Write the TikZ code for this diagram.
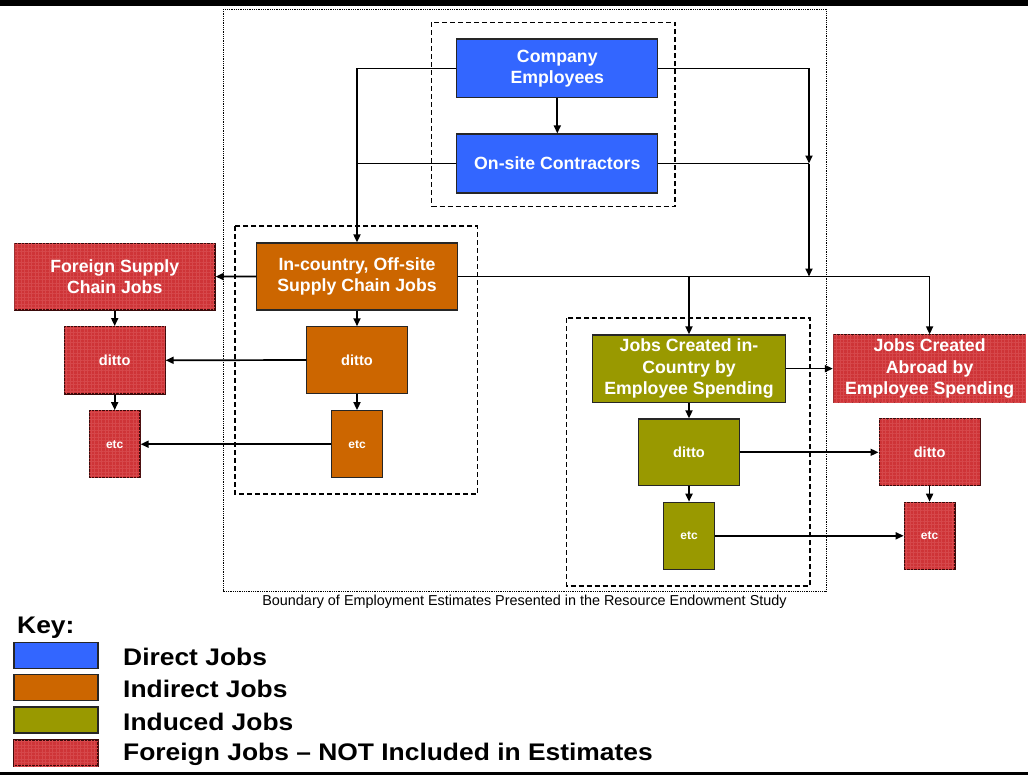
\documentclass[tikz,border=0pt]{standalone}
\usepackage{fontspec}
\setmainfont{Liberation Sans}
\usetikzlibrary{arrows.meta,patterns.meta}
\definecolor{cblue}{HTML}{3366FF}
\definecolor{corange}{HTML}{CC6600}
\definecolor{colive}{HTML}{999900}
\definecolor{cred}{HTML}{CE3437}
\definecolor{credgrid}{HTML}{D6484B}
\definecolor{credborder}{HTML}{3A0A0A}
\tikzset{
  x=1pt,y=-1pt,
  box/.style={draw=black!85, line width=1.2pt, inner sep=0pt, text=white, align=center,
    font=\bfseries\fontsize{17.7}{21}\selectfont},
  blu/.style={box, fill=cblue},
  ora/.style={box, fill=corange},
  oli/.style={box, fill=colive},
  redb/.style={box, fill=cred, draw=credborder,
    postaction={pattern={Hatch[angle=0,distance=3.5pt,line width=0.3pt]}, pattern color=credgrid}},
  dittotxt/.style={font=\bfseries\fontsize{14.6}{17}\selectfont},
  etctxt/.style={font=\bfseries\fontsize{12}{14}\selectfont},
  arr/.style={line width=1.7pt, -{Triangle[length=8pt,width=7pt]}},
  ln/.style={line width=1.7pt},
  dashbox/.style={draw, line width=1.5pt, dash pattern=on 5pt off 3pt},
  dotbox/.style={draw, line width=0.8pt, dash pattern=on 0.8pt off 1pt},
  keybox/.style={draw=black!85, line width=1.2pt, minimum width=84pt, minimum height=26pt, inner sep=0pt},
  keytxt/.style={anchor=west, inner sep=0pt, font=\bfseries\fontsize{24}{28}\selectfont},
}
\begin{document}
\begin{tikzpicture}
\useasboundingbox (0,0) rectangle (1028,780);
% top and bottom rules
\fill[black] (0,0) rectangle (1028,6);
\fill[black] (0,772) rectangle (1028,774.5);

% boundary boxes
\path[dotbox] (223,9) rectangle (826,591);
\path[dashbox] (431.7,22.3) rectangle (675,206.5);
\path[dashbox] (235,226) rectangle (477.7,494);
\path[dashbox] (566.7,318) rectangle (810,586);
\node[font=\fontsize{14.4}{17}\selectfont, inner sep=0pt] (cap) at (524.5,601.5) {Boundary of Employment Estimates Presented in the Resource Endowment Study};

% direct
\node[blu, minimum width=201pt, minimum height=58.7pt] (ce) at (557.3,68.4) {\rule{0pt}{5pt}Company\\Employees};
\node[blu, minimum width=201pt, minimum height=59pt] (oc) at (557.3,163.5) {\rule{0pt}{5pt}On-site Contractors};

% indirect
\node[ora, minimum width=200.3pt, minimum height=67pt] (ic) at (357,276.5) {In-country, Off-site\\Supply Chain Jobs};
\node[ora, dittotxt, minimum width=100.3pt, minimum height=66.3pt] (od) at (357,360) {ditto};
\node[ora, etctxt, minimum width=50.3pt, minimum height=67pt] (oe) at (357,444.2) {etc};

% foreign supply
\node[redb, minimum width=200.7pt, minimum height=66.7pt] (fs) at (114.7,276.6) {Foreign Supply\\Chain Jobs};
\node[redb, dittotxt, minimum width=100.7pt, minimum height=67.3pt] (fd) at (114.7,360.3) {ditto};
\node[redb, etctxt, minimum width=50.7pt, minimum height=67pt] (fe) at (114.7,444.2) {etc};

% induced
\node[oli, font=\bfseries\fontsize{17.7}{21.3}\selectfont, minimum width=192.7pt, minimum height=67.3pt] (jc) at (689,368.6) {Jobs Created in-\\Country by\\Employee Spending};
\node[oli, dittotxt, minimum width=100.3pt, minimum height=66.7pt] (gd) at (689,452.3) {ditto};
\node[oli, etctxt, minimum width=50.4pt, minimum height=67pt] (ge) at (689,535.8) {etc};

% foreign induced
\node[redb, font=\bfseries\fontsize{17.7}{21.3}\selectfont, minimum width=192.4pt, minimum height=67.3pt] (ja) at (929.6,368.6) {Jobs Created\\Abroad by\\Employee Spending};
\node[redb, dittotxt, minimum width=101pt, minimum height=66.7pt] (rd) at (929.6,452.3) {ditto};
\node[redb, etctxt, minimum width=50.7pt, minimum height=67pt] (re) at (929.6,535.8) {etc};

% connectors
\coordinate (rv1) at (809,163.5);
\coordinate (rv2) at (809,276.5);
\draw[arr] (ce) -- (oc);
\draw[arr] (ce.west) -| (ic.north);
\draw[ln] (oc.west) -- (oc.west -| ic.north);
\draw[arr] (ce.east) -| (rv1);
\draw[ln] (oc.east) -- (rv1);
\draw[arr] (rv1) -- (rv2);
\draw[arr] (ic.east) -| (ja.north);
\draw[arr] (ic.east -| jc.north) -- (jc.north);
\draw[arr] (ic.west) -- (fs.east);
\draw[arr] (ic) -- (od);
\draw[arr] (od) -- (oe);
\draw[arr] (fs) -- (fd);
\draw[arr] (fd) -- (fe);
\draw[arr] (od.west) -- (fd.east);
\draw[arr] (oe.west) -- (oe.west -| fe.east);
\draw[arr] (jc) -- (gd);
\draw[arr] (gd) -- (ge);
\draw[arr] (rd) -- (re);
\draw[arr] (jc.east) -- (jc.east -| ja.west);
\draw[arr] (gd.east) -- (gd.east -| rd.west);
\draw[arr] (ge.east) -- (ge.east -| re.west);

% key
\node[anchor=west, inner sep=0pt, font=\bfseries\fontsize{24}{28}\selectfont] (key) at (17,628) {\scalebox{1.1}[1]{Key:}};
\node[keybox, fill=cblue] (k1) at (56,655.5) {};
\node[keybox, fill=corange] (k2) at (56,687.5) {};
\node[keybox, fill=colive] (k3) at (56,720) {};
\node[keybox, fill=cred, draw=credborder, postaction={pattern={Hatch[angle=0,distance=3.5pt,line width=0.3pt]}, pattern color=credgrid}] (k4) at (56,753) {};
\node[keytxt] (t1) at (123,657) {\scalebox{1.1}[1]{Direct Jobs}};
\node[keytxt] (t2) at (123,689) {\scalebox{1.1}[1]{Indirect Jobs}};
\node[keytxt] (t3) at (123,721.5) {\scalebox{1.1}[1]{Induced Jobs}};
\node[keytxt] (t4) at (123,754) {\scalebox{1.1}[1]{Foreign Jobs – NOT Included in Estimates}};
\end{tikzpicture}
\end{document}
